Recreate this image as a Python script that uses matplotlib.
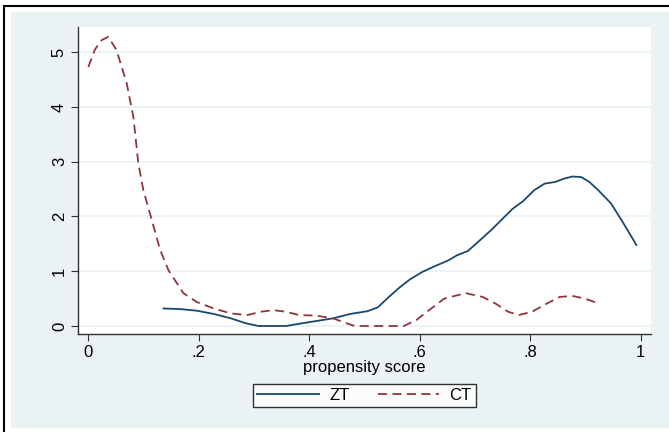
import numpy as np
import matplotlib.pyplot as plt
from matplotlib.patches import Rectangle

plt.rcParams['font.family'] = ['Liberation Sans', 'DejaVu Sans']

# ZT density (solid)
zt_x = [0.136, 0.165, 0.196, 0.227, 0.258, 0.285, 0.308, 0.358, 0.381, 0.412,
        0.443, 0.474, 0.505, 0.524, 0.544, 0.563, 0.582, 0.605, 0.629, 0.652,
        0.667, 0.687, 0.706, 0.729, 0.753, 0.768, 0.787, 0.807, 0.826, 0.845,
        0.861, 0.876, 0.892, 0.907, 0.923, 0.946, 0.969, 0.992]
zt_y = [0.32, 0.31, 0.28, 0.22, 0.14, 0.05, 0.0, 0.0, 0.04, 0.09,
        0.14, 0.22, 0.27, 0.34, 0.53, 0.70, 0.85, 0.99, 1.10, 1.20,
        1.29, 1.37, 1.54, 1.75, 1.99, 2.14, 2.28, 2.48, 2.60, 2.63,
        2.69, 2.73, 2.72, 2.63, 2.48, 2.24, 1.87, 1.48]

# CT density (dashed)
ct_x = [0.0, 0.012, 0.024, 0.036, 0.051, 0.0695, 0.0815, 0.0905, 0.0996, 0.115,
        0.13, 0.145, 0.172, 0.196, 0.227, 0.258, 0.288, 0.312, 0.335, 0.358,
        0.381, 0.412, 0.443, 0.459, 0.482, 0.571, 0.594, 0.613, 0.644, 0.683,
        0.714, 0.737, 0.760, 0.779, 0.803, 0.830, 0.853, 0.876, 0.899, 0.919]
ct_y = [4.73, 5.05, 5.22, 5.28, 5.04, 4.43, 3.82, 2.97, 2.48, 1.93,
        1.39, 1.02, 0.60, 0.44, 0.32, 0.23, 0.20, 0.26, 0.29, 0.26,
        0.20, 0.19, 0.14, 0.08, 0.0, 0.0, 0.11, 0.26, 0.50, 0.60,
        0.53, 0.41, 0.26, 0.20, 0.26, 0.41, 0.53, 0.55, 0.50, 0.43]

xticks = [0, 0.2, 0.4, 0.6, 0.8, 1]
xlabels = ['0', '.2', '.4', '.6', '.8', '1']
yticks = [0, 1, 2, 3, 4, 5]

bg = '#EAF2F3'
W, H = 669, 432
fig = plt.figure(figsize=(W / 100, H / 100), dpi=100)
fig.patch.set_facecolor('white')

# outer frame and graph region (behind the axes)
fig.add_artist(Rectangle((4 / W, -0.1), 1, 1.1 - 6 / H, transform=fig.transFigure,
                         facecolor='white', edgecolor='black', lw=1.5, zorder=-10))
fig.add_artist(Rectangle((11 / W, 4 / H), 1, 1 - 16 / H, transform=fig.transFigure,
                         facecolor=bg, edgecolor='none', zorder=-9))

ax = fig.add_axes([78 / W, (H - 334) / H, (651 - 78) / W, (334 - 27) / H])
ax.set_zorder(1)
ax.set_facecolor('white')

ax.plot(zt_x, zt_y, color='#1A476F', lw=1.3, label='ZT')
ax.plot(ct_x, ct_y, color='#90353B', lw=1.3, ls=(0, (5, 3)), label='CT')

ax.set_xlim(-0.0187, 1.0185)
ax.set_ylim(-0.146, 5.46)
ax.set_xticks(xticks)
ax.set_xticklabels(xlabels)
ax.set_yticks(yticks)
ax.set_yticklabels([str(t) for t in yticks], rotation=90, va='center')
ax.grid(axis='y', color=bg, lw=1.2)
ax.set_axisbelow(True)

for s in ['top', 'right']:
    ax.spines[s].set_visible(False)
for s in ['left', 'bottom']:
    ax.spines[s].set_color('#333333')
    ax.spines[s].set_linewidth(1.0)
ax.tick_params(colors='#333333', labelcolor='black', labelsize=12, length=5, width=0.8,
               pad=3)

ax.set_xlabel('propensity score', fontsize=12, labelpad=0)

leg = ax.legend(loc='upper center', bbox_to_anchor=(0.5, -0.163), ncol=2, frameon=True,
                fancybox=False, edgecolor='black', fontsize=12, handlelength=3.7,
                handletextpad=0.6, columnspacing=1.7, borderpad=0.25, borderaxespad=0)
leg.get_frame().set_linewidth(1.0)

fig.savefig('out.png', dpi=100, facecolor=fig.get_facecolor())
